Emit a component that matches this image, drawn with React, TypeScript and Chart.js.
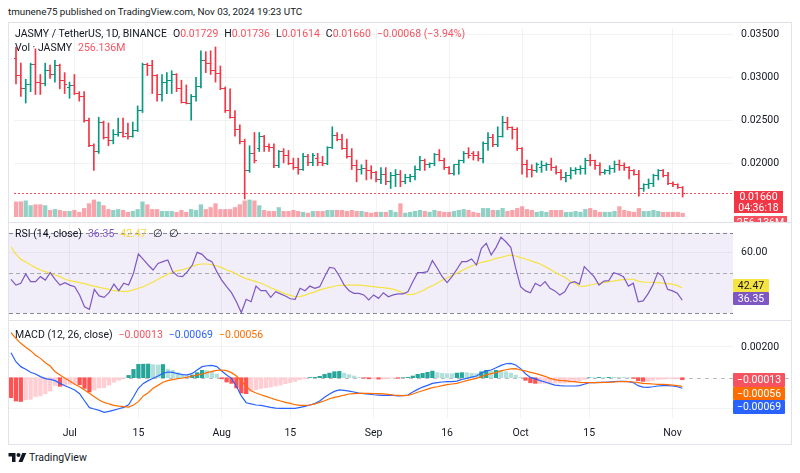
import React, { useEffect, useRef } from 'react';
import { Chart, registerables } from 'chart.js';

Chart.register(...registerables);

// ---------- data ----------
const TICK_IDX = [12, 26, 43, 57, 74, 89, 104, 118, 135];
const TICK_LABELS = ['Jul', '15', 'Aug', '15', 'Sep', '16', 'Oct', '15', 'Nov'];
const PRICE_TICKS = [0.035, 0.03, 0.025, 0.02];
const RSI_TICKS = [60];
const MACD_TICKS = [0.002, -0.002];

const OPEN = [
  0.03224, 0.03026, 0.02871, 0.02916, 0.03158, 0.02949, 0.02927, 0.03081, 0.03037, 0.03147,
  0.02971, 0.02882, 0.02905, 0.02816, 0.02783, 0.02507, 0.02210, 0.02143, 0.02485, 0.02309,
  0.02265, 0.02342, 0.02364, 0.02353, 0.02320, 0.02386, 0.02618, 0.03158, 0.03147, 0.03026,
  0.02805, 0.02949, 0.02971, 0.03037, 0.02871, 0.02717, 0.02706, 0.02783, 0.02893, 0.03202,
  0.03169, 0.03081, 0.03048, 0.02871, 0.02618, 0.02541, 0.02397, 0.02254, 0.01923, 0.02121,
  0.02177, 0.02320, 0.02199, 0.02188, 0.01978, 0.02143, 0.02099, 0.02000, 0.01956, 0.01934,
  0.02088, 0.02011, 0.02066, 0.02011, 0.02000, 0.02188, 0.02331, 0.02287, 0.02177, 0.02088,
  0.01978, 0.01934, 0.01945, 0.01923, 0.01901, 0.01813, 0.01879, 0.01791, 0.01868, 0.01879,
  0.01791, 0.01846, 0.01857, 0.01934, 0.02044, 0.01989, 0.02000, 0.02110, 0.02044, 0.01956,
  0.01890, 0.01989, 0.02033, 0.02121, 0.02121, 0.02099, 0.02066, 0.02232, 0.02309, 0.02221,
  0.02320, 0.02474, 0.02419, 0.02397, 0.02177, 0.01989, 0.01934, 0.01923, 0.01956, 0.01978,
  0.01989, 0.01956, 0.01901, 0.01846, 0.01868, 0.01923, 0.01934, 0.01945, 0.02044, 0.02033,
  0.01978, 0.01901, 0.01923, 0.01945, 0.01989, 0.01978, 0.01956, 0.01923, 0.01879, 0.01713,
  0.01757, 0.01768, 0.01868, 0.01923, 0.01868, 0.01768, 0.01757, 0.01729,
];
const HIGH = [
  0.03357, 0.03169, 0.02982, 0.03169, 0.03335, 0.03037, 0.03169, 0.03147, 0.03202, 0.03158,
  0.03059, 0.02949, 0.03037, 0.02838, 0.02838, 0.02530, 0.02232, 0.02541, 0.02496, 0.02474,
  0.02397, 0.02530, 0.02530, 0.02474, 0.02485, 0.02673, 0.03169, 0.03169, 0.03202, 0.03037,
  0.03037, 0.03059, 0.03081, 0.03048, 0.02971, 0.02916, 0.02805, 0.03004, 0.03313, 0.03302,
  0.03313, 0.03357, 0.03136, 0.02893, 0.02871, 0.02618, 0.02452, 0.02287, 0.02210, 0.02364,
  0.02364, 0.02331, 0.02232, 0.02232, 0.02155, 0.02177, 0.02155, 0.02066, 0.02066, 0.02121,
  0.02110, 0.02121, 0.02121, 0.02088, 0.02199, 0.02430, 0.02364, 0.02342, 0.02287, 0.02177,
  0.02044, 0.01989, 0.02044, 0.01978, 0.01912, 0.01956, 0.01956, 0.01901, 0.01934, 0.01923,
  0.01879, 0.01879, 0.01978, 0.02088, 0.02055, 0.02011, 0.02121, 0.02166, 0.02066, 0.01967,
  0.01989, 0.02044, 0.02143, 0.02188, 0.02143, 0.02143, 0.02254, 0.02364, 0.02342, 0.02430,
  0.02552, 0.02541, 0.02430, 0.02419, 0.02188, 0.02044, 0.01989, 0.02011, 0.02033, 0.02011,
  0.02066, 0.01978, 0.01934, 0.01901, 0.01956, 0.01956, 0.01978, 0.02066, 0.02110, 0.02044,
  0.02011, 0.01934, 0.01978, 0.02033, 0.02044, 0.02011, 0.01967, 0.01934, 0.01923, 0.01768,
  0.01824, 0.01879, 0.01934, 0.01934, 0.01901, 0.01791, 0.01768, 0.01736,
];
const LOW = [
  0.02927, 0.02783, 0.02706, 0.02838, 0.02805, 0.02805, 0.02905, 0.02993, 0.02949, 0.02871,
  0.02816, 0.02761, 0.02805, 0.02728, 0.02485, 0.02199, 0.01923, 0.02121, 0.02287, 0.02210,
  0.02232, 0.02320, 0.02309, 0.02287, 0.02309, 0.02375, 0.02596, 0.03026, 0.02816, 0.02728,
  0.02728, 0.02816, 0.02816, 0.02838, 0.02706, 0.02695, 0.02507, 0.02728, 0.02882, 0.03059,
  0.03037, 0.02949, 0.02860, 0.02596, 0.02530, 0.02320, 0.02232, 0.01592, 0.01901, 0.02011,
  0.02143, 0.02143, 0.02143, 0.01956, 0.01956, 0.02011, 0.01989, 0.01934, 0.01879, 0.01923,
  0.01978, 0.01978, 0.01978, 0.01978, 0.01989, 0.02177, 0.02265, 0.02166, 0.02066, 0.01934,
  0.01791, 0.01879, 0.01813, 0.01824, 0.01791, 0.01768, 0.01757, 0.01713, 0.01735, 0.01735,
  0.01768, 0.01791, 0.01813, 0.01923, 0.01923, 0.01956, 0.01978, 0.02033, 0.01934, 0.01879,
  0.01868, 0.01879, 0.02011, 0.02066, 0.02044, 0.02033, 0.02011, 0.02155, 0.02199, 0.02199,
  0.02309, 0.02397, 0.02287, 0.02155, 0.01879, 0.01846, 0.01846, 0.01901, 0.01901, 0.01923,
  0.01923, 0.01879, 0.01813, 0.01791, 0.01824, 0.01879, 0.01879, 0.01879, 0.01978, 0.01934,
  0.01868, 0.01879, 0.01879, 0.01901, 0.01923, 0.01923, 0.01824, 0.01868, 0.01625, 0.01680,
  0.01713, 0.01735, 0.01813, 0.01846, 0.01757, 0.01735, 0.01713, 0.01614,
];
const CLOSE = [
  0.03026, 0.02871, 0.02916, 0.03158, 0.02949, 0.02927, 0.03081, 0.03037, 0.03147, 0.02971,
  0.02916, 0.02905, 0.02816, 0.02783, 0.02507, 0.02210, 0.02143, 0.02485, 0.02309, 0.02265,
  0.02342, 0.02364, 0.02320, 0.02320, 0.02386, 0.02618, 0.03158, 0.03147, 0.03026, 0.02805,
  0.02949, 0.02971, 0.03037, 0.02871, 0.02717, 0.02706, 0.02783, 0.02893, 0.03202, 0.03169,
  0.03081, 0.03048, 0.02871, 0.02618, 0.02541, 0.02397, 0.02254, 0.01923, 0.02121, 0.02033,
  0.02320, 0.02199, 0.02188, 0.01978, 0.02143, 0.02099, 0.02000, 0.01956, 0.01934, 0.02088,
  0.02011, 0.02099, 0.02011, 0.02000, 0.02188, 0.02331, 0.02287, 0.02177, 0.02088, 0.01978,
  0.01934, 0.01945, 0.01923, 0.01901, 0.01813, 0.01879, 0.01791, 0.01868, 0.01879, 0.01791,
  0.01846, 0.01857, 0.01934, 0.02044, 0.01989, 0.02000, 0.02110, 0.02044, 0.01956, 0.01890,
  0.01989, 0.02033, 0.02121, 0.02099, 0.02099, 0.02066, 0.02232, 0.02309, 0.02221, 0.02320,
  0.02474, 0.02419, 0.02397, 0.02177, 0.01989, 0.01934, 0.01923, 0.01989, 0.01978, 0.01989,
  0.01956, 0.01901, 0.01846, 0.01868, 0.01923, 0.01934, 0.01945, 0.02044, 0.02033, 0.01978,
  0.01901, 0.01923, 0.01945, 0.01989, 0.01978, 0.01956, 0.01923, 0.01879, 0.01713, 0.01757,
  0.01768, 0.01868, 0.01923, 0.01868, 0.01768, 0.01757, 0.01729, 0.01660,
];
// volume in millions of JASMY
const VOLUME = [
  1020, 1030, 1090, 770, 830, 830, 770, 450, 510, 450,
  380, 380, 450, 320, 580, 900, 1150, 1020, 770, 510,
  450, 510, 450, 320, 380, 510, 1020, 830, 510, 510,
  380, 380, 380, 320, 450, 320, 510, 450, 830, 510,
  640, 900, 510, 510, 510, 640, 830, 1090, 1150, 1090,
  770, 450, 380, 380, 640, 380, 380, 450, 380, 320,
  260, 380, 380, 380, 450, 450, 450, 450, 380, 450,
  380, 380, 320, 260, 320, 320, 320, 450, 320, 900,
  260, 320, 380, 450, 380, 320, 450, 380, 320, 320,
  380, 450, 510, 450, 320, 260, 580, 580, 450, 450,
  580, 380, 450, 580, 700, 510, 450, 320, 380, 320,
  450, 450, 450, 320, 320, 380, 320, 510, 580, 450,
  320, 320, 320, 380, 700, 450, 380, 320, 580, 380,
  380, 450, 380, 320, 320, 320, 320, 256.136,
];
const RSI = [
  46.8, 43.9, 44.8, 49.4, 45.6, 45.6, 48.1, 46.4, 50.1, 46.8,
  43.9, 45.1, 43.9, 43.1, 39.0, 33.1, 31.8, 41.8, 38.5, 37.8,
  40.1, 44.4, 41.1, 44.8, 43.9, 49.8, 59.4, 56.7, 53.9, 51.4,
  54.7, 55.6, 56.4, 50.6, 48.4, 48.1, 50.6, 53.9, 60.2, 59.2,
  56.7, 55.6, 50.6, 46.4, 43.1, 40.1, 35.6, 30.2, 36.8, 35.6,
  43.4, 41.1, 41.1, 37.8, 40.6, 39.5, 38.5, 37.1, 36.8, 42.3,
  41.1, 43.4, 42.3, 43.1, 48.1, 52.7, 52.3, 48.4, 43.9, 41.1,
  39.8, 39.8, 39.0, 36.5, 39.0, 37.3, 40.1, 38.1, 39.0, 39.5,
  39.5, 40.6, 45.6, 50.1, 50.1, 50.6, 56.1, 52.3, 48.1, 45.1,
  48.1, 51.8, 55.6, 55.6, 56.9, 53.9, 62.2, 64.7, 58.9, 62.7,
  67.7, 65.5, 62.7, 52.3, 43.1, 41.0, 40.1, 44.8, 43.4, 45.6,
  42.3, 41.0, 39.0, 40.6, 44.8, 45.6, 44.4, 53.1, 50.6, 48.1,
  43.9, 45.9, 46.1, 50.1, 49.3, 48.1, 43.4, 44.8, 35.6, 36.0,
  39.5, 43.9, 50.1, 48.1, 41.8, 41.0, 39.8, 36.35,
];
const RSI_MA = [
  63.0, 59.2, 56.7, 55.4, 53.9, 52.6, 51.4, 50.6, 49.8, 48.9,
  48.1, 46.8, 46.1, 45.6, 45.1, 44.6, 43.9, 43.4, 42.8, 42.3,
  41.8, 41.1, 41.0, 40.6, 40.9, 41.5, 42.3, 43.1, 44.3, 45.4,
  46.8, 48.1, 49.3, 50.4, 51.1, 51.6, 52.3, 53.2, 54.1, 54.4,
  54.4, 54.1, 53.4, 52.6, 51.4, 50.6, 49.4, 48.1, 47.1, 46.4,
  45.6, 44.8, 43.8, 42.6, 41.5, 40.5, 39.5, 38.8, 38.1, 38.3,
  38.8, 39.8, 40.5, 41.5, 42.1, 42.8, 43.3, 43.8, 43.9, 43.9,
  43.9, 43.9, 43.6, 43.4, 43.1, 42.8, 42.6, 42.3, 41.9, 41.0,
  40.1, 39.1, 39.3, 40.1, 41.1, 42.5, 43.6, 44.9, 46.3, 47.4,
  48.6, 49.8, 51.1, 52.3, 53.4, 54.4, 55.2, 55.7, 56.4, 57.2,
  57.7, 58.4, 58.9, 58.4, 57.6, 56.9, 56.1, 55.2, 54.4, 53.1,
  51.8, 50.3, 48.9, 47.8, 46.1, 44.8, 43.4, 43.3, 43.8, 44.3,
  44.8, 45.1, 45.6, 45.9, 46.4, 46.6, 46.8, 46.8, 45.9, 45.4,
  45.3, 45.3, 45.1, 44.9, 44.6, 44.3, 43.6, 42.47,
];
const MACD = [
  0.00163, 0.00104, 0.00072, 0.00055, 0.00035, 0.00024, 0.00007, -0.00006, -0.00011, -0.00019,
  -0.00037, -0.00052, -0.00065, -0.00080, -0.00104, -0.00150, -0.00195, -0.00204, -0.00213, -0.00226,
  -0.00219, -0.00211, -0.00202, -0.00193, -0.00176, -0.00124, -0.00069, -0.00037, -0.00019, -0.00004,
  0.00011, 0.00028, 0.00037, 0.00035, 0.00026, 0.00020, 0.00018, 0.00028, 0.00050, 0.00072,
  0.00078, 0.00080, 0.00072, 0.00044, 0.00018, -0.00004, -0.00056, -0.00119, -0.00163, -0.00171,
  -0.00178, -0.00180, -0.00187, -0.00193, -0.00198, -0.00200, -0.00200, -0.00200, -0.00200, -0.00193,
  -0.00187, -0.00178, -0.00169, -0.00152, -0.00128, -0.00106, -0.00089, -0.00080, -0.00082, -0.00087,
  -0.00093, -0.00100, -0.00104, -0.00108, -0.00111, -0.00113, -0.00115, -0.00115, -0.00115, -0.00119,
  -0.00117, -0.00113, -0.00093, -0.00076, -0.00061, -0.00050, -0.00037, -0.00032, -0.00028, -0.00026,
  -0.00026, -0.00022, -0.00011, -0.00004, 0.00004, 0.00011, 0.00031, 0.00044, 0.00050, 0.00065,
  0.00080, 0.00091, 0.00093, 0.00083, 0.00059, 0.00026, 0.00002, -0.00008, -0.00019, -0.00028,
  -0.00039, -0.00048, -0.00052, -0.00054, -0.00054, -0.00054, -0.00052, -0.00043, -0.00032, -0.00032,
  -0.00030, -0.00030, -0.00028, -0.00026, -0.00024, -0.00024, -0.00026, -0.00032, -0.00052, -0.00061,
  -0.00063, -0.00059, -0.00054, -0.00052, -0.00052, -0.00054, -0.00059, -0.00069,
];
const SIGNAL = [
  0.00293, 0.00256, 0.00224, 0.00198, 0.00176, 0.00146, 0.00126, 0.00098, 0.00076, 0.00039,
  0.00018, -0.00004, -0.00022, -0.00043, -0.00059, -0.00080, -0.00102, -0.00124, -0.00145, -0.00161,
  -0.00171, -0.00180, -0.00185, -0.00189, -0.00191, -0.00178, -0.00156, -0.00119, -0.00098, -0.00069,
  -0.00050, -0.00030, -0.00019, -0.00013, -0.00006, -0.00002, 0.00004, 0.00011, 0.00018, 0.00024,
  0.00033, 0.00041, 0.00048, 0.00050, 0.00046, 0.00033, 0.00011, -0.00019, -0.00059, -0.00085,
  -0.00100, -0.00111, -0.00122, -0.00132, -0.00143, -0.00152, -0.00161, -0.00167, -0.00176, -0.00180,
  -0.00180, -0.00178, -0.00171, -0.00161, -0.00150, -0.00137, -0.00128, -0.00122, -0.00113, -0.00106,
  -0.00104, -0.00102, -0.00102, -0.00102, -0.00104, -0.00104, -0.00106, -0.00108, -0.00113, -0.00115,
  -0.00117, -0.00115, -0.00106, -0.00095, -0.00085, -0.00074, -0.00065, -0.00059, -0.00052, -0.00045,
  -0.00041, -0.00037, -0.00028, -0.00019, -0.00011, -0.00004, 0.00007, 0.00018, 0.00026, 0.00033,
  0.00044, 0.00052, 0.00057, 0.00059, 0.00050, 0.00044, 0.00035, 0.00028, 0.00018, 0.00009,
  -0.00004, -0.00013, -0.00017, -0.00019, -0.00024, -0.00026, -0.00030, -0.00032, -0.00032, -0.00032,
  -0.00032, -0.00030, -0.00030, -0.00028, -0.00026, -0.00026, -0.00026, -0.00028, -0.00032, -0.00037,
  -0.00039, -0.00041, -0.00043, -0.00043, -0.00045, -0.00048, -0.00052, -0.00056,
];
const HIST = [
  -0.00130, -0.00152, -0.00155, -0.00143, -0.00141, -0.00122, -0.00119, -0.00104, -0.00087, -0.00050,
  -0.00056, -0.00048, -0.00043, -0.00037, -0.00046, -0.00070, -0.00093, -0.00080, -0.00067, -0.00065,
  -0.00048, -0.00030, -0.00017, -0.00004, 0.00015, 0.00054, 0.00087, 0.00088, 0.00089, 0.00085,
  0.00083, 0.00086, 0.00056, 0.00048, 0.00033, 0.00022, 0.00013, 0.00017, 0.00033, 0.00048,
  0.00046, 0.00039, 0.00024, -0.00007, -0.00028, -0.00037, -0.00067, -0.00100, -0.00104, -0.00087,
  -0.00078, -0.00070, -0.00065, -0.00061, -0.00054, -0.00048, -0.00039, -0.00033, -0.00024, -0.00013,
  -0.00007, 0.00001, 0.00002, 0.00009, 0.00022, 0.00030, 0.00039, 0.00041, 0.00030, 0.00020,
  0.00011, 0.00002, -0.00002, -0.00007, -0.00007, -0.00009, -0.00009, -0.00007, -0.00002, -0.00004,
  0.00000, 0.00002, 0.00011, 0.00022, 0.00028, 0.00035, 0.00043, 0.00033, 0.00028, 0.00026,
  0.00026, 0.00030, 0.00033, 0.00033, 0.00028, 0.00026, 0.00039, 0.00048, 0.00043, 0.00048,
  0.00048, 0.00039, 0.00030, 0.00017, 0.00002, -0.00017, -0.00033, -0.00037, -0.00037, -0.00037,
  -0.00035, -0.00035, -0.00035, -0.00035, -0.00030, -0.00028, -0.00022, -0.00011, 0.00000, 0.00000,
  0.00002, 0.00000, 0.00002, 0.00002, 0.00002, 0.00002, 0.00000, -0.00004, -0.00020, -0.00024,
  -0.00024, -0.00017, -0.00011, -0.00009, -0.00007, -0.00007, -0.00007, -0.00013,
];

// ---------- style ----------
const FONT = "Roboto, 'Liberation Sans', sans-serif";
const TXT = '#131722';
const GRID = 'rgba(42,46,57,0.06)';
const UP = '#089981';
const DOWN = '#f23645';
const VOL_UP = 'rgba(8,153,129,0.45)';
const VOL_DOWN = 'rgba(242,54,69,0.45)';
const X_MIN = -0.41;
const X_MAX = 147.35;

function xScale(labels: boolean): any {
  return {
    type: 'linear',
    min: X_MIN,
    max: X_MAX,
    offset: false,
    afterBuildTicks: (s: any) => {
      s.ticks = TICK_IDX.map((v) => ({ value: v }));
    },
    ticks: {
      display: labels,
      autoSkip: false,
      maxRotation: 0,
      padding: 9,
      color: TXT,
      font: { family: FONT, size: 10.5 },
      callback: (_v: any, i: number) => TICK_LABELS[i],
    },
    grid: { color: GRID, drawTicks: false, offset: false },
    border: { display: false },
    afterFit: (s: any) => {
      s.height = labels ? 26 : 0;
      s.paddingLeft = 0;
      s.paddingRight = 0;
    },
  };
}

function yScale(min: number, max: number, ticks: number[], fmt: (v: number) => string): any {
  return {
    type: 'linear',
    position: 'right',
    min,
    max,
    afterBuildTicks: (s: any) => {
      s.ticks = ticks.map((v) => ({ value: v }));
    },
    ticks: { padding: 8, color: TXT, font: { family: FONT, size: 10.5 }, callback: (v: any) => fmt(Number(v)) },
    grid: { color: GRID, drawTicks: false },
    border: { display: false },
    afterFit: (s: any) => {
      s.width = 58;
      s.paddingTop = 0;
      s.paddingBottom = 0;
    },
  };
}

function tickImage(color: string, left: boolean) {
  const c = document.createElement('canvas');
  c.width = 5;
  c.height = 1;
  const g = c.getContext('2d')!;
  g.fillStyle = color;
  g.fillRect(left ? 0 : 2, 0, 3, 1);
  return c;
}

const baseOptions = {
  responsive: false,
  animation: false as const,
  devicePixelRatio: 1,
  events: [] as any[],
  layout: { padding: 0 },
  plugins: { legend: { display: false }, tooltip: { enabled: false } },
};

export default function App() {
  const mainRef = useRef<HTMLCanvasElement>(null);
  const rsiRef = useRef<HTMLCanvasElement>(null);
  const macdRef = useRef<HTMLCanvasElement>(null);

  useEffect(() => {
    Chart.defaults.font.family = FONT;
    const isUp = (i: number) => CLOSE[i] >= OPEN[i];
    const upL = tickImage(UP, true);
    const upR = tickImage(UP, false);
    const dnL = tickImage(DOWN, true);
    const dnR = tickImage(DOWN, false);

    const lastPriceLine = {
      id: 'lastPriceLine',
      beforeDatasetsDraw(chart: any) {
        const { ctx, chartArea } = chart;
        const y = Math.round(chart.scales.y.getPixelForValue(CLOSE[CLOSE.length - 1])) + 0.5;
        ctx.save();
        ctx.strokeStyle = 'rgba(242,54,69,0.85)';
        ctx.lineWidth = 1;
        ctx.setLineDash([2, 2]);
        ctx.beginPath();
        ctx.moveTo(chartArea.left, y);
        ctx.lineTo(chartArea.right, y);
        ctx.stroke();
        ctx.restore();
      },
    };

    const main = new Chart(mainRef.current!, {
      type: 'bar',
      data: {
        datasets: [
          {
            type: 'bar',
            label: 'Volume',
            yAxisID: 'vol',
            data: VOLUME.map((v, i) => ({ x: i, y: v })),
            backgroundColor: VOLUME.map((_, i) => (isUp(i) ? VOL_UP : VOL_DOWN)),
            barThickness: 3.6,
            grouped: false,
            order: 4,
          } as any,
          {
            type: 'bar',
            label: 'Range',
            yAxisID: 'y',
            data: HIGH.map((h, i) => ({ x: i, y: [LOW[i], h] })),
            backgroundColor: HIGH.map((_, i) => (isUp(i) ? UP : DOWN)),
            barThickness: 1,
            grouped: false,
            order: 3,
          } as any,
          {
            type: 'line',
            label: 'Open',
            yAxisID: 'y',
            data: OPEN.map((v, i) => ({ x: i, y: v })),
            showLine: false,
            pointRadius: 2,
            pointStyle: OPEN.map((_, i) => (isUp(i) ? upL : dnL)),
            order: 2,
          } as any,
          {
            type: 'line',
            label: 'Close',
            yAxisID: 'y',
            data: CLOSE.map((v, i) => ({ x: i, y: v })),
            showLine: false,
            pointRadius: 2,
            pointStyle: CLOSE.map((_, i) => (isUp(i) ? upR : dnR)),
            order: 1,
          } as any,
        ],
      },
      options: {
        ...baseOptions,
        scales: {
          x: xScale(false),
          y: yScale(0.013824, 0.035772, PRICE_TICKS, (v) => v.toFixed(5)),
          vol: { type: 'linear', display: false, min: 0, max: 12736 },
        },
      } as any,
      plugins: [lastPriceLine],
    });

    const rsiBands = {
      id: 'rsiBands',
      beforeDatasetsDraw(chart: any) {
        const { ctx, chartArea: a } = chart;
        const s = chart.scales.y;
        const y70 = s.getPixelForValue(70);
        const y50 = s.getPixelForValue(50);
        const y30 = s.getPixelForValue(30);
        ctx.save();
        ctx.fillStyle = 'rgba(126,87,194,0.1)';
        ctx.fillRect(a.left, y70, a.right - a.left, y30 - y70);
        ctx.strokeStyle = 'rgba(120,123,134,0.9)';
        ctx.lineWidth = 1;
        ctx.setLineDash([4, 3]);
        for (const y of [y70, y30]) {
          ctx.beginPath();
          ctx.moveTo(a.left, Math.round(y) + 0.5);
          ctx.lineTo(a.right, Math.round(y) + 0.5);
          ctx.stroke();
        }
        ctx.strokeStyle = 'rgba(120,123,134,0.6)';
        ctx.beginPath();
        ctx.moveTo(a.left, Math.round(y50) + 0.5);
        ctx.lineTo(a.right, Math.round(y50) + 0.5);
        ctx.stroke();
        ctx.restore();
      },
    };

    const rsi = new Chart(rsiRef.current!, {
      type: 'line',
      data: {
        datasets: [
          {
            label: 'RSI',
            data: RSI.map((v, i) => ({ x: i, y: v })),
            borderColor: '#7e57c2',
            borderWidth: 1.2,
            pointRadius: 0,
            order: 1,
          },
          {
            label: 'RSI MA',
            data: RSI_MA.map((v, i) => ({ x: i, y: v })),
            borderColor: '#f5e342',
            borderWidth: 1.2,
            pointRadius: 0,
            order: 2,
          },
        ],
      },
      options: {
        ...baseOptions,
        scales: {
          x: xScale(false),
          y: yScale(26.502, 74.833, RSI_TICKS, (v) => v.toFixed(2)),
        },
      } as any,
      plugins: [rsiBands],
    });

    const zeroLine = {
      id: 'zeroLine',
      beforeDatasetsDraw(chart: any) {
        const { ctx, chartArea: a } = chart;
        const y = Math.round(chart.scales.y.getPixelForValue(0)) + 0.5;
        ctx.save();
        ctx.strokeStyle = 'rgba(120,123,134,0.5)';
        ctx.lineWidth = 1;
        ctx.setLineDash([4, 4]);
        ctx.beginPath();
        ctx.moveTo(a.left, y);
        ctx.lineTo(chart.width, y);
        ctx.stroke();
        ctx.restore();
      },
    };

    const histColors = HIST.map((h, i) => {
      const prev = i > 0 ? HIST[i - 1] : 0;
      if (h >= 0) return h > prev ? '#26a69a' : '#b2dfdb';
      return h < prev ? '#ff5252' : '#ffcdd2';
    });

    const macd = new Chart(macdRef.current!, {
      type: 'bar',
      data: {
        datasets: [
          {
            type: 'bar',
            label: 'Histogram',
            data: HIST.map((v, i) => ({ x: i, y: v })),
            backgroundColor: histColors,
            barThickness: 3.6,
            grouped: false,
            order: 3,
          } as any,
          {
            type: 'line',
            label: 'MACD',
            data: MACD.map((v, i) => ({ x: i, y: v })),
            borderColor: '#2962ff',
            borderWidth: 1.2,
            pointRadius: 0,
            order: 2,
          } as any,
          {
            type: 'line',
            label: 'Signal',
            data: SIGNAL.map((v, i) => ({ x: i, y: v })),
            borderColor: '#ff6d00',
            borderWidth: 1.2,
            pointRadius: 0,
            order: 1,
          } as any,
        ],
      },
      options: {
        ...baseOptions,
        scales: {
          x: xScale(true),
          y: yScale(-0.0026254, 0.0036938, MACD_TICKS, (v) => (v > 0 ? v.toFixed(5) : '')),
        },
      } as any,
      plugins: [zeroLine],
    });

    return () => {
      main.destroy();
      rsi.destroy();
      macd.destroy();
    };
  }, []);

  const abs = (s: React.CSSProperties): React.CSSProperties => ({ position: 'absolute', ...s });
  const badge = (top: number, h: number, w: number, bg: string, color: string, text: string, left = 733) => (
    <div
      style={abs({
        left,
        top,
        width: w,
        height: h,
        background: bg,
        color,
        fontSize: 10.5,
        lineHeight: `${h}px`,
        textAlign: 'center',
        borderRadius: 1,
      })}
    >
      {text}
    </div>
  );

  return (
    <div
      style={abs({
        left: 0,
        top: 0,
        width: 800,
        height: 473,
        background: '#ffffff',
        fontFamily: FONT,
        color: TXT,
        overflow: 'hidden',
        whiteSpace: 'nowrap',
      })}
    >
      <div style={abs({ left: 8, top: 6, fontSize: 9.8, lineHeight: '12px', color: '#131722' })}>
        tmunene75 published on TradingView.com, Nov 03, 2024 19:23 UTC
      </div>

      <canvas ref={mainRef} width={782} height={199} style={abs({ left: 9, top: 23 })} />
      <canvas ref={rsiRef} width={782} height={97} style={abs({ left: 9, top: 223 })} />
      <canvas ref={macdRef} width={782} height={123} style={abs({ left: 9, top: 321 })} />

      <div style={abs({ left: 8, top: 22, width: 784, height: 423, border: '1px solid #e0e3eb', boxSizing: 'border-box' })} />
      <div style={abs({ left: 8, top: 222, width: 784, height: 1, background: '#e0e3eb' })} />
      <div style={abs({ left: 8, top: 320, width: 784, height: 1, background: '#e0e3eb' })} />

      {/* main legend */}
      <div style={abs({ left: 15, top: 28, fontSize: 10.5, lineHeight: '12px' })}>
        <span>JASMY / TetherUS, 1D, BINANCE</span>
        <span style={{ marginLeft: 6 }}>O</span>
        <span style={{ color: '#f7525f' }}>0.01729</span>
        <span style={{ marginLeft: 6 }}>H</span>
        <span style={{ color: '#f7525f' }}>0.01736</span>
        <span style={{ marginLeft: 6 }}>L</span>
        <span style={{ color: '#f7525f' }}>0.01614</span>
        <span style={{ marginLeft: 6 }}>C</span>
        <span style={{ color: '#f7525f' }}>0.01660</span>
        <span style={{ color: '#f7525f', marginLeft: 6 }}>−0.00068 (−3.94%)</span>
      </div>
      <div style={abs({ left: 15, top: 42, fontSize: 10.5, lineHeight: '12px' })}>
        <span>Vol · JASMY</span>
        <span style={{ color: '#f7525f', marginLeft: 6 }}>256.136M</span>
      </div>

      {/* RSI legend */}
      <div style={abs({ left: 15, top: 228, fontSize: 10.5, lineHeight: '12px' })}>
        <span>RSI (14, close)</span>
        <span style={{ color: '#7e57c2', marginLeft: 6 }}>36.35</span>
        <span style={{ color: '#f5d742', marginLeft: 6 }}>42.47</span>
        <span style={{ color: '#131722', marginLeft: 6 }}>∅</span>
        <span style={{ color: '#131722', marginLeft: 6 }}>∅</span>
      </div>

      {/* MACD legend */}
      <div style={abs({ left: 15, top: 329, fontSize: 10.5, lineHeight: '12px' })}>
        <span>MACD (12, 26, close)</span>
        <span style={{ color: '#f7525f', marginLeft: 6 }}>−0.00013</span>
        <span style={{ color: '#2962ff', marginLeft: 6 }}>−0.00069</span>
        <span style={{ color: '#ff6d00', marginLeft: 6 }}>−0.00056</span>
      </div>

      {/* price badges */}
      <div
        style={abs({
          left: 734,
          top: 191,
          width: 49,
          height: 22,
          background: '#f23645',
          color: '#fff',
          fontSize: 10.5,
          lineHeight: '11px',
          textAlign: 'center',
        })}
      >
        0.01660
        <br />
        04:36:18
      </div>
      <div style={abs({ left: 734, top: 216, width: 53, height: 6, overflow: 'hidden', background: '#f7525f' })}>
        <div style={{ color: '#fff', fontSize: 10.5, lineHeight: '13px', textAlign: 'center' }}>256.136M</div>
      </div>

      {/* RSI badges */}
      {badge(279, 13, 36, '#f5e342', '#131722', '42.47')}
      {badge(292, 13, 36, '#7e57c2', '#ffffff', '36.35')}

      {/* MACD badges */}
      {badge(373, 13.5, 52, '#f7525f', '#ffffff', '−0.00013')}
      {badge(386.5, 13.5, 52, '#ff6d00', '#ffffff', '−0.00056')}
      {badge(400, 14, 52, '#2962ff', '#ffffff', '−0.00069')}

      {/* footer */}
      <svg width="19" height="12" viewBox="0 0 36 24" style={abs({ left: 8, top: 452 })}>
        <path d="M14 20H7V9H0V2h14v18zM28 20h-8l7.5-18h8L28 20z" fill="#131722" />
        <circle cx="20" cy="6" r="4" fill="#131722" />
      </svg>
      <div style={abs({ left: 29, top: 451, fontSize: 10.5, lineHeight: '14px', color: '#131722' })}>TradingView</div>
    </div>
  );
}
